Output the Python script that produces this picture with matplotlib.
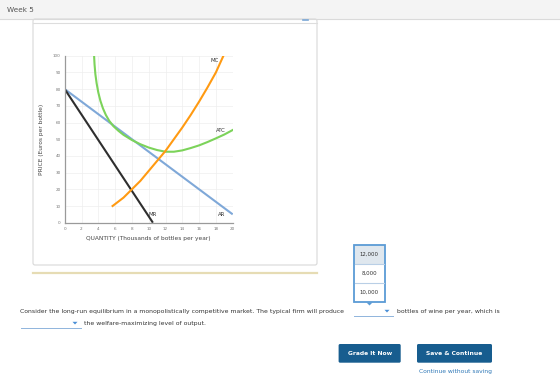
import matplotlib.pyplot as plt
from matplotlib.patches import Rectangle, FancyBboxPatch, Polygon

# Curve data (quantity in thousands, price in euros)
ar_q = [0, 20]
ar_p = [80, 5]
mr_q = [0, 10.5]
mr_p = [80, 0]
mc_q = [5.7, 7, 8, 9, 10, 11, 12, 13, 14, 15, 16, 17, 18, 18.9]
mc_p = [10, 15, 20, 25, 31, 37, 43, 50, 57, 64.5, 72.5, 81, 90, 100]
atc_q = [3.5, 3.55, 3.65, 3.8, 4.0, 4.25, 4.55, 4.9, 5.3, 5.8, 6.4, 7, 8, 9, 10, 11, 12,
         13, 14, 15, 16, 17, 18, 19, 20]
atc_p = [100, 95, 89, 83.5, 78, 73, 68.5, 64.5, 61, 57.8, 55, 52.6, 49.5, 47, 45, 43.5, 42.5,
         42.5, 43.3, 44.7, 46.3, 48.3, 50.5, 52.8, 55.5]

x_ticks = list(range(0, 21, 2))
y_ticks = list(range(0, 101, 10))
choices = ['12,000', '8,000', '10,000']

W, H = 560, 381
fig = plt.figure(figsize=(W / 100, H / 100), dpi=100)
fig.patch.set_facecolor('white')

# page background layer, pixel coordinates
bg = fig.add_axes([0, 0, 1, 1])
bg.set_xlim(0, W)
bg.set_ylim(H, 0)
bg.axis('off')

# top bar
bg.add_patch(Rectangle((0, 0), W, 19, facecolor='#f4f4f4', edgecolor='none'))
bg.plot([0, W], [19.3, 19.3], color='#dadada', lw=0.8)
bg.text(7, 9.5, 'Week 5', fontsize=5.2, color='#555555', va='center', ha='left')

# chart panel
bg.add_patch(FancyBboxPatch((33, 19), 284, 246, boxstyle='round,pad=0,rounding_size=2',
                            facecolor='white', edgecolor='#d8d8d8', lw=0.8))
bg.plot([33, 317], [23, 23], color='#dddddd', lw=0.8)
bg.plot([303, 308], [20.3, 20.3], color='#7aa7d6', lw=1.2)

# separator line under panel
bg.plot([33, 317], [273, 273], color='#e6dcb4', lw=1.6)

# open dropdown list
bg.add_patch(Rectangle((353.6, 245), 31, 19, facecolor='#dfe7ee', edgecolor='none'))
bg.add_patch(Rectangle((353.6, 245), 31, 57, facecolor='none', edgecolor='#5b9bd5', lw=1.3))
for yy in [264, 282.7]:
    bg.plot([354.5, 383.7], [yy, yy], color='#b9cfe6', lw=0.8)
for i, c in enumerate(choices):
    bg.text(369.1, 254.5 + i * 18.8, c, fontsize=3.9, color='#333333', ha='center', va='center')
bg.add_patch(Polygon([[366.5, 302.5], [372.5, 302.5], [369.5, 305.5]], closed=True,
                     facecolor='#5b9bd5', edgecolor='none'))

# question text
body = 4.4
bg.text(20, 311, 'Consider the long-run equilibrium in a monopolistically competitive market. '
        'The typical firm will produce', fontsize=body, color='#333333', ha='left', va='center')
bg.plot([353.6, 393], [315.5, 315.5], color='#8fb4dc', lw=0.7)
bg.add_patch(Polygon([[384.5, 309.8], [389.5, 309.8], [387, 312.5]], closed=True,
                     facecolor='#4a8fd6', edgecolor='none'))
bg.text(397, 311, 'bottles of wine per year, which is', fontsize=body, color='#333333',
        ha='left', va='center')
bg.plot([21.4, 81.4], [327.5, 327.5], color='#8fb4dc', lw=0.7)
bg.add_patch(Polygon([[72.5, 321.8], [77.5, 321.8], [75, 324.5]], closed=True,
                     facecolor='#4a8fd6', edgecolor='none'))
bg.text(84, 323, 'the welfare-maximizing level of output.', fontsize=body, color='#333333',
        ha='left', va='center')

# buttons
for x0, x1, label in [(338.6, 400.7, 'Grade It Now'), (417, 492, 'Save & Continue')]:
    bg.add_patch(FancyBboxPatch((x0, 344), x1 - x0, 18.7, boxstyle='round,pad=0,rounding_size=1.5',
                                facecolor='#175d8f', edgecolor='none'))
    bg.text((x0 + x1) / 2, 353.3, label, fontsize=4.3, color='white', fontweight='bold',
            ha='center', va='center')
bg.text(455.5, 371.5, 'Continue without saving', fontsize=4.3, color='#2f78b7',
        ha='center', va='center')

# the chart
ax = fig.add_axes([64.7 / W, (H - 222.7) / H, 168 / W, 167 / H])
ax.set_xlim(0, 20)
ax.set_ylim(0, 100)
ax.set_xticks(x_ticks)
ax.set_yticks(y_ticks)
ax.tick_params(length=0, labelsize=3.0, labelcolor='#777777', pad=3)
ax.grid(True, color='#eeeeee', lw=0.5)
ax.set_axisbelow(True)
for s in ['top', 'right']:
    ax.spines[s].set_visible(False)
for s in ['left', 'bottom']:
    ax.spines[s].set_color('#9a9a9a')
    ax.spines[s].set_linewidth(0.9)

ax.plot(ar_q, ar_p, color='#7fa8d8', lw=1.5, solid_capstyle='butt')
ax.plot(mr_q, mr_p, color='#2e2e2e', lw=1.5, solid_capstyle='butt')
ax.plot(atc_q, atc_p, color='#7cd35a', lw=1.5)
ax.plot(mc_q, mc_p, color='#ff9a12', lw=1.5)

lab = dict(fontsize=3.9, color='#333333', ha='center', va='center')
ax.text(17.8, 97.4, 'MC', **lab)
ax.text(18.6, 55.5, 'ATC', **lab)
ax.text(10.5, 5.2, 'MR', **lab)
ax.text(18.7, 5.2, 'AR', **lab)

ax.set_xlabel('QUANTITY (Thousands of bottles per year)', fontsize=4.2, color='#444444', labelpad=4)
ax.set_ylabel('PRICE (Euros per bottle)', fontsize=4.2, color='#444444', labelpad=6)

fig.savefig('out.png', dpi=100)
